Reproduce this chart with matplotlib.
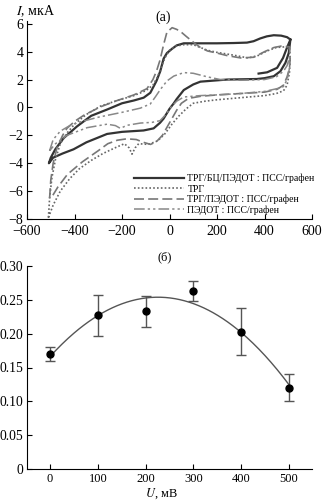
"""Two-panel figure: cyclic voltammograms (a) and response vs potential (б)."""

import numpy as np
import matplotlib
matplotlib.use('Agg')
import matplotlib.pyplot as plt

plt.rcParams['font.family'] = ['Liberation Serif', 'DejaVu Serif']
plt.rcParams['mathtext.fontset'] = 'stix'

# --- panel (a): CV loops, potential in mV, current in uA ---
bc_v = [375, 411, 453, 478, 495, 509, 495, 470, 439, 410, 382, 354, 326, 270,
        200, 130, 60, 30, 10, -11, -25, -39, -55, -81, -109, -150, -200, -263,
        -330, -389, -446, -481, -500, -508, -490, -450, -404, -350, -263, -200,
        -109, -67, -40, -25, 0, 18, 30, 60, 100, 130, 242, 368, 400, 439, 467,
        488, 502, 509]
bc_i = [2.43, 2.52, 2.84, 3.55, 4.3, 4.87, 5.04, 5.15, 5.18, 5.1, 4.95, 4.75,
        4.65, 4.62, 4.6, 4.6, 4.6, 4.45, 4.2, 3.9, 3.5, 2.6, 1.9, 1.05, 0.7,
        0.5, 0.3, -0.15, -0.6, -1.35, -2.2, -3.0, -3.6, -4.0, -3.6, -3.3, -3.0,
        -2.5, -1.9, -1.75, -1.65, -1.5, -1.1, -0.8, -0.1, 0.3, 0.6, 1.25, 1.65,
        1.85, 2.0, 2.04, 2.1, 2.24, 2.6, 3.2, 3.9, 4.87]

trg_v = [-510, -505, -495, -480, -460, -430, -400, -350, -290, -220, -150, -100,
         -70, -50, -35, -18, 0, 25, 60, 100, 130, 160, 200, 270, 330, 370, 410,
         450, 490, 505, 508, 505, 495, 480, 450, 400, 300, 200, 150, 100, 70,
         40, 10, -20, -50, -90, -130, -145, -158, -170, -190, -230, -280, -330,
         -380, -420, -460, -490, -510]
trg_i = [-7.9, -6.5, -5.0, -3.7, -2.6, -1.8, -1.2, -0.5, 0.1, 0.5, 0.85, 1.2,
         1.6, 2.2, 2.9, 3.6, 4.1, 4.4, 4.5, 4.5, 4.3, 4.1, 3.95, 3.75, 3.55,
         3.7, 4.05, 4.3, 4.35, 4.3, 3.5, 2.5, 1.6, 1.2, 1.0, 0.85, 0.7, 0.55,
         0.45, 0.3, -0.1, -0.6, -1.2, -1.9, -2.4, -2.65, -2.6, -2.9, -3.35,
         -2.9, -2.6, -2.9, -3.3, -3.8, -4.4, -5.1, -6.0, -7.0, -7.9]

pedot_trg_v = [-505, -500, -490, -474, -450, -432, -400, -360, -290, -220, -150,
               -95, -70, -55, -40, -25, -11, 11, 30, 46, 70, 88, 110, 130, 160,
               200, 242, 300, 354, 400, 440, 470, 505, 508, 505, 495, 480, 453,
               400, 300, 200, 130, 80, 50, 30, 10, -10, -30, -55, -80, -110,
               -140, -180, -220, -260, -300, -367, -430, -470, -495, -505]
pedot_trg_i = [-6.5, -5.2, -4.0, -2.9, -2.0, -1.5, -1.0, -0.55, 0.05, 0.5, 0.9,
               1.35, 2.0, 2.6, 3.4, 4.5, 5.4, 5.72, 5.6, 5.45, 5.1, 4.85, 4.55,
               4.3, 4.05, 3.9, 3.72, 3.55, 3.6, 4.0, 4.3, 4.4, 4.35, 3.5, 2.8,
               2.2, 1.6, 1.3, 1.1, 1.0, 0.9, 0.8, 0.65, 0.3, -0.2, -0.8, -1.4,
               -2.0, -2.45, -2.65, -2.5, -2.3, -2.25, -2.35, -2.6, -3.1, -3.9,
               -4.8, -5.7, -6.4, -6.5]

pedot_v = [-505, -490, -460, -420, -390, -300, -200, -123, -81, -60, -39, -11,
           18, 60, 100, 158, 214, 300, 400, 450, 480, 495, 505, 505, 495, 480,
           453, 400, 300, 200, 130, 60, 30, 5, -18, -40, -74, -123, -179, -207,
           -228, -263, -347, -432, -480, -505]
pedot_i = [-3.1, -2.3, -1.7, -1.3, -1.1, -0.7, -0.35, -0.05, 0.25, 0.75, 1.28,
           1.9, 2.25, 2.5, 2.45, 2.2, 2.0, 1.95, 2.0, 2.2, 2.6, 3.0, 3.6, 2.8,
           2.0, 1.5, 1.35, 1.15, 1.0, 0.9, 0.85, 0.75, 0.45, 0.0, -0.55, -0.95,
           -1.07, -1.12, -1.28, -1.5, -1.3, -1.2, -1.45, -2.0, -2.6, -3.1]

labels_a = ['ТРГ/БЦ/ПЭДОТ : ПСС/графен', 'ТРГ', 'ТРГ/ПЭДОТ : ПСС/графен',
            'ПЭДОТ : ПСС/графен']

# --- panel (б): response vs potential ---
u_mv = [0, 100, 200, 300, 400, 500]
resp = [0.170, 0.227, 0.233, 0.263, 0.203, 0.120]
resp_lo = [0.160, 0.196, 0.210, 0.248, 0.168, 0.100]
resp_hi = [0.180, 0.257, 0.256, 0.278, 0.238, 0.140]


def style_axes(ax, fs_x, fs_y, xpad):
    for side in ('top', 'right'):
        ax.spines[side].set_visible(False)
    ax.tick_params(direction='in', length=3.5, width=0.8)
    ax.tick_params(axis='x', labelsize=fs_x, pad=xpad)
    ax.tick_params(axis='y', labelsize=fs_y, pad=2.5)


fig = plt.figure(figsize=(3.22, 5.0), dpi=100)

ax1 = fig.add_axes([0.084, 0.562, 0.885, 0.396])
ax1.plot(bc_v, bc_i, color='#333333', lw=1.6, label=labels_a[0])
ax1.plot(trg_v, trg_i, color='#666666', lw=1.2, ls=(0, (1, 1.3)),
         label=labels_a[1])
ax1.plot(pedot_trg_v, pedot_trg_i, color='#777777', lw=1.2,
         ls=(0, (6, 2.5)), label=labels_a[2])
ax1.plot(pedot_v, pedot_i, color='#888888', lw=1.1,
         ls=(0, (7, 2, 1.5, 2, 1.5, 2)), label=labels_a[3])
ax1.set_xlim(-600, 600)
ax1.set_ylim(-8, 6.2)
ax1.set_xticks(np.arange(-600, 601, 200))
ax1.set_yticks(np.arange(-8, 7, 2))
style_axes(ax1, 10, 10, 4.2)
ax1.legend(loc='upper left', bbox_to_anchor=(0.375, 0.228), frameon=False,
           fontsize=7, handlelength=5.2, handletextpad=0.3,
           labelspacing=0.12, borderpad=0, borderaxespad=0)
fig.text(0.05, 0.978, '$I$, мкА', fontsize=10, ha='left', va='center')
fig.text(0.506, 0.966, '(a)', fontsize=10, ha='center', va='center')

ax2 = fig.add_axes([0.084, 0.062, 0.885, 0.406])
err = [np.array(resp) - np.array(resp_lo), np.array(resp_hi) - np.array(resp)]
ax2.errorbar(u_mv, resp, yerr=err, fmt='o', color='black', ms=5,
             ecolor='#555555', elinewidth=1.0, capsize=3.8, capthick=1.0,
             zorder=3)
coef = np.polyfit(u_mv, resp, 2)
uu = np.linspace(0, 500, 200)
ax2.plot(uu, np.polyval(coef, uu), color='#555555', lw=1.0, zorder=2)
ax2.set_xlim(-48, 548)
ax2.set_ylim(0, 0.30)
ax2.set_xticks(u_mv)
ax2.set_yticks(np.arange(0, 0.31, 0.05))
ax2.set_yticklabels(['0'] + ['%.2f' % t for t in np.arange(0.05, 0.31, 0.05)])
style_axes(ax2, 9, 9.8, 3)
fig.text(0.5, 0.013, '$U$, мВ', fontsize=9, ha='center', va='center')
fig.text(0.512, 0.486, '(б)', fontsize=9, ha='center', va='center')

fig.savefig('out.png', dpi=100)
